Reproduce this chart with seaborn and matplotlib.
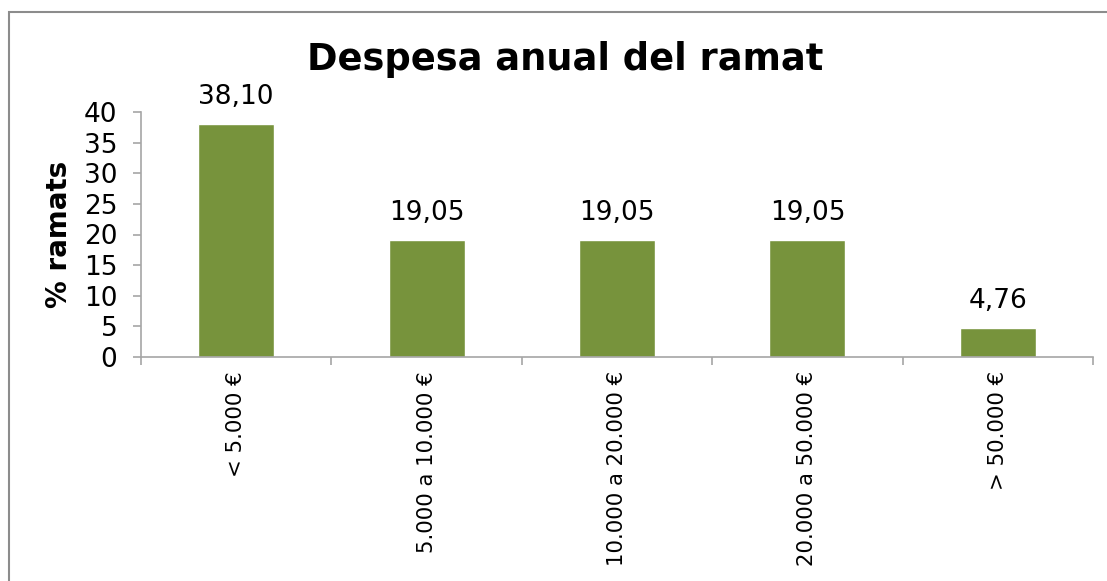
import matplotlib
matplotlib.use("Agg")
import matplotlib.pyplot as plt
import seaborn as sns
import pandas as pd
from matplotlib.patches import Rectangle

categories = ["< 5.000 €", "5.000 a 10.000 €", "10.000 a 20.000 €", "20.000 a 50.000 €", "> 50.000 €"]
values = [38.10, 19.05, 19.05, 19.05, 4.76]
value_labels = ["38,10", "19,05", "19,05", "19,05", "4,76"]
yticks = [0, 5, 10, 15, 20, 25, 30, 35, 40]

sns.set_theme(style="white")
plt.rcParams['font.family'] = ['DejaVu Sans']

W, H = 1107, 581
fig = plt.figure(figsize=(W / 100, H / 100), dpi=100)
ax = fig.add_axes([141 / W, 1 - 357 / H, (1093 - 141) / W, (357 - 112) / H])

df = pd.DataFrame({"cat": categories, "val": values})
sns.barplot(data=df, x="cat", y="val", order=categories, color="#77933C",
            saturation=1, width=0.4, ax=ax)

ax.set_xlim(-0.5, 4.5)
ax.set_ylim(0, 40)
ax.set_yticks(yticks)
ax.set_yticklabels([str(v) for v in yticks], fontsize=19, color="black")

for i, (v, lab) in enumerate(zip(values, value_labels)):
    ax.annotate(lab, (i, v), xytext=(0, 10), textcoords="offset points",
                ha="center", va="bottom", fontsize=19, color="black")

ax.set_xticks(range(len(categories)))
ax.set_xticklabels(categories, rotation=90, fontsize=15.3, va="top", color="black")
ax.set_xticks([i - 0.5 for i in range(len(categories) + 1)], minor=True)
ax.tick_params(axis="x", which="major", length=0, pad=10)
ax.tick_params(axis="x", which="minor", length=6, width=1.2, color="#A6A6A6", direction="out", bottom=True)
ax.tick_params(axis="y", which="major", length=6, width=1.2, color="#A6A6A6", direction="out", left=True, pad=11)

ax.set_xlabel("")
ax.set_ylabel("% ramats", fontsize=20, fontweight="bold", color="black", labelpad=8)

for s in ["top", "right"]:
    ax.spines[s].set_visible(False)
for s in ["left", "bottom"]:
    ax.spines[s].set_color("#A6A6A6")
    ax.spines[s].set_linewidth(1.2)

fig.text(565 / W, 1 - 60 / H, "Despesa anual del ramat", ha="center", va="center",
         fontsize=26.5, fontweight="bold", color="black")

fig.patches.append(Rectangle((9 / W, -0.05), 1.1, 1.05 - 12 / H,
                             transform=fig.transFigure, fill=False,
                             edgecolor="#8C8C8C", linewidth=1.5))

fig.savefig("out.png", dpi=100)
